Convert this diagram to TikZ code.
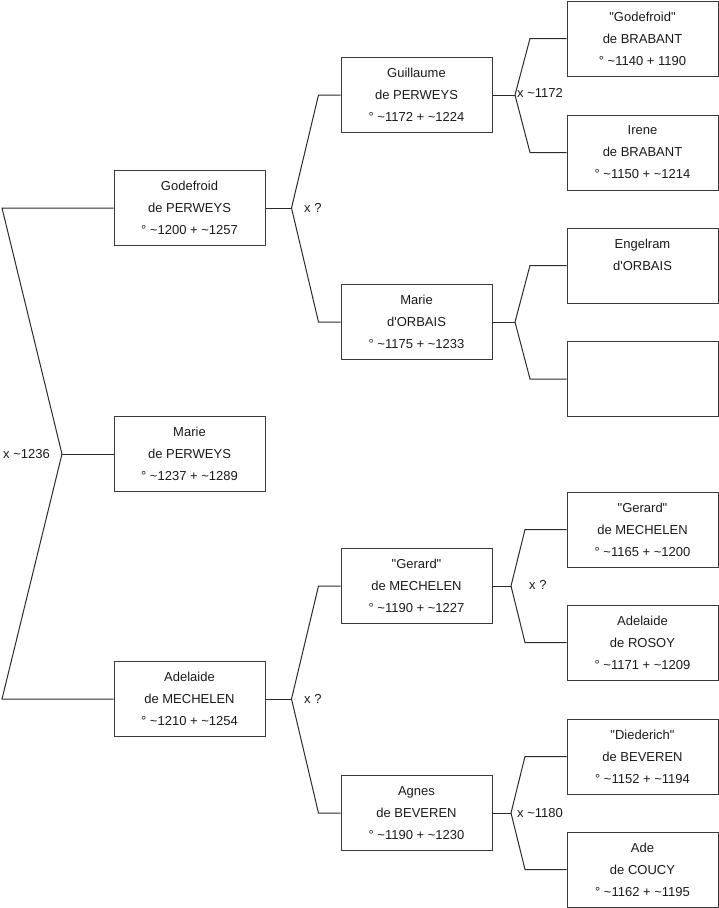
\documentclass[tikz,border=0pt]{standalone}
\usepackage{fontspec}
\setmainfont{Liberation Sans}
\usepackage{tikz}
\usetikzlibrary{positioning}
\definecolor{boxline}{HTML}{3A3A3A}
\definecolor{linkline}{HTML}{2B2B2B}
\definecolor{darktext}{HTML}{1A1A1A}
\newcommand{\ca}{\textasciitilde}
\newcommand{\apos}{\textquotesingle}
\newcommand{\nick}[1]{\textquotedbl#1\textquotedbl}

\begin{document}
\begin{tikzpicture}[x=1pt, y=-1pt,
            person/.style={draw=boxline, line width=1pt, minimum width=151pt, minimum height=75pt,
              inner sep=0pt, align=center, text=darktext, font=\fontsize{13}{22}\selectfont},
            link/.style={draw=linkline, line width=1pt},
            wed/.style={inner sep=2pt, text=darktext, font=\fontsize{13}{16}\selectfont}]
            \useasboundingbox (0,0) rectangle (719,908);
            % generation 0
            \node[person] (marie) at (189.5,454) {Marie\\de PERWEYS\\° \ca1237 + \ca1289};
            % generation 1
            \node[person] (godefroid) at (189.5,208) {Godefroid\\de PERWEYS\\° \ca1200 + \ca1257};
            \node[person] (adelaide) at (189.5,699) {Adelaide\\de MECHELEN\\° \ca1210 + \ca1254};
            % generation 2
            \node[person] (guillaume) at (416.5,95) {Guillaume\\de PERWEYS\\° \ca1172 + \ca1224};
            \node[person] (mariedorbais) at (416.5,322) {Marie\\d\apos ORBAIS\\° \ca1175 + \ca1233};
            \node[person] (gerard) at (416.5,586) {\nick{Gerard}\\de MECHELEN\\° \ca1190 + \ca1227};
            \node[person] (agnes) at (416.5,813) {Agnes\\de BEVEREN\\° \ca1190 + \ca1230};
            % generation 3
            \node[person] (godefroidb) at (642.5,38.5) {\nick{Godefroid}\\de BRABANT\\° \ca1140 + 1190};
            \node[person] (irene) at (642.5,152.5) {Irene\\de BRABANT\\° \ca1150 + \ca1214};
            \node[person] (engelram) at (642.5,265.5) {Engelram\\d\apos ORBAIS\\\mbox{}};
            \node[person] (unknown) at (642.5,379) {};
            \node[person] (gerardm) at (642.5,529.5) {\nick{Gerard}\\de MECHELEN\\° \ca1165 + \ca1200};
            \node[person] (adelaider) at (642.5,642.5) {Adelaide\\de ROSOY\\° \ca1171 + \ca1209};
            \node[person] (diederich) at (642.5,756.5) {\nick{Diederich}\\de BEVEREN\\° \ca1152 + \ca1194};
            \node[person] (ade) at (642.5,869.5) {Ade\\de COUCY\\° \ca1162 + \ca1195};
            % forks and kinks
            \coordinate (f0) at (62,454);
            \coordinate (f1) at (291.5,208);
            \coordinate (f2) at (291.5,699);
            \coordinate (f3) at (515,95);
            \coordinate (f4) at (515,322);
            \coordinate (f5) at (511,586);
            \coordinate (f6) at (511,813);
            \coordinate (kgodefroid) at (2,208);
            \coordinate (kadelaide) at (2,699);
            \coordinate (kguillaume) at (318.5,95);
            \coordinate (kmariedorbais) at (318.5,322);
            \coordinate (kgerard) at (318.5,586);
            \coordinate (kagnes) at (318.5,813);
            \coordinate (kgodefroidb) at (530,38.5);
            \coordinate (kirene) at (530,152.5);
            \coordinate (kengelram) at (530,265.5);
            \coordinate (kunknown) at (530,379);
            \coordinate (kgerardm) at (525,529.5);
            \coordinate (kadelaider) at (525,642.5);
            \coordinate (kdiederich) at (525,756.5);
            \coordinate (kade) at (525,869.5);
            % links
            \draw[link] (marie.west) -- (f0);
            \foreach \c/\f in {godefroid/f1,adelaide/f2,guillaume/f3,mariedorbais/f4,gerard/f5,agnes/f6} {
                \draw[link] (\c.east) -- (\f);
            }
            \foreach \f/\p in {f0/godefroid,f0/adelaide,f1/guillaume,f1/mariedorbais,f2/gerard,f2/agnes,
                f3/godefroidb,f3/irene,f4/engelram,f4/unknown,f5/gerardm,f5/adelaider,f6/diederich,f6/ade} {
                \draw[link] (\f) -- (k\p) -- (\p.west);
            }
            % marriages
            \node[wed, left=10pt of f0] (m0) {x \ca1236};
            \node[wed, right=10.5pt of f1] (m1) {x ?};
            \node[wed, right=10.5pt of f2] (m2) {x ?};
            \node[wed, right=0pt of f3, yshift=2pt] (m3) {x \ca1172};
            \node[wed, right=16pt of f5, yshift=1pt] (m5) {x ?};
            \node[wed, right=4pt of f6] (m6) {x \ca1180};
        \end{tikzpicture}
\end{document}
